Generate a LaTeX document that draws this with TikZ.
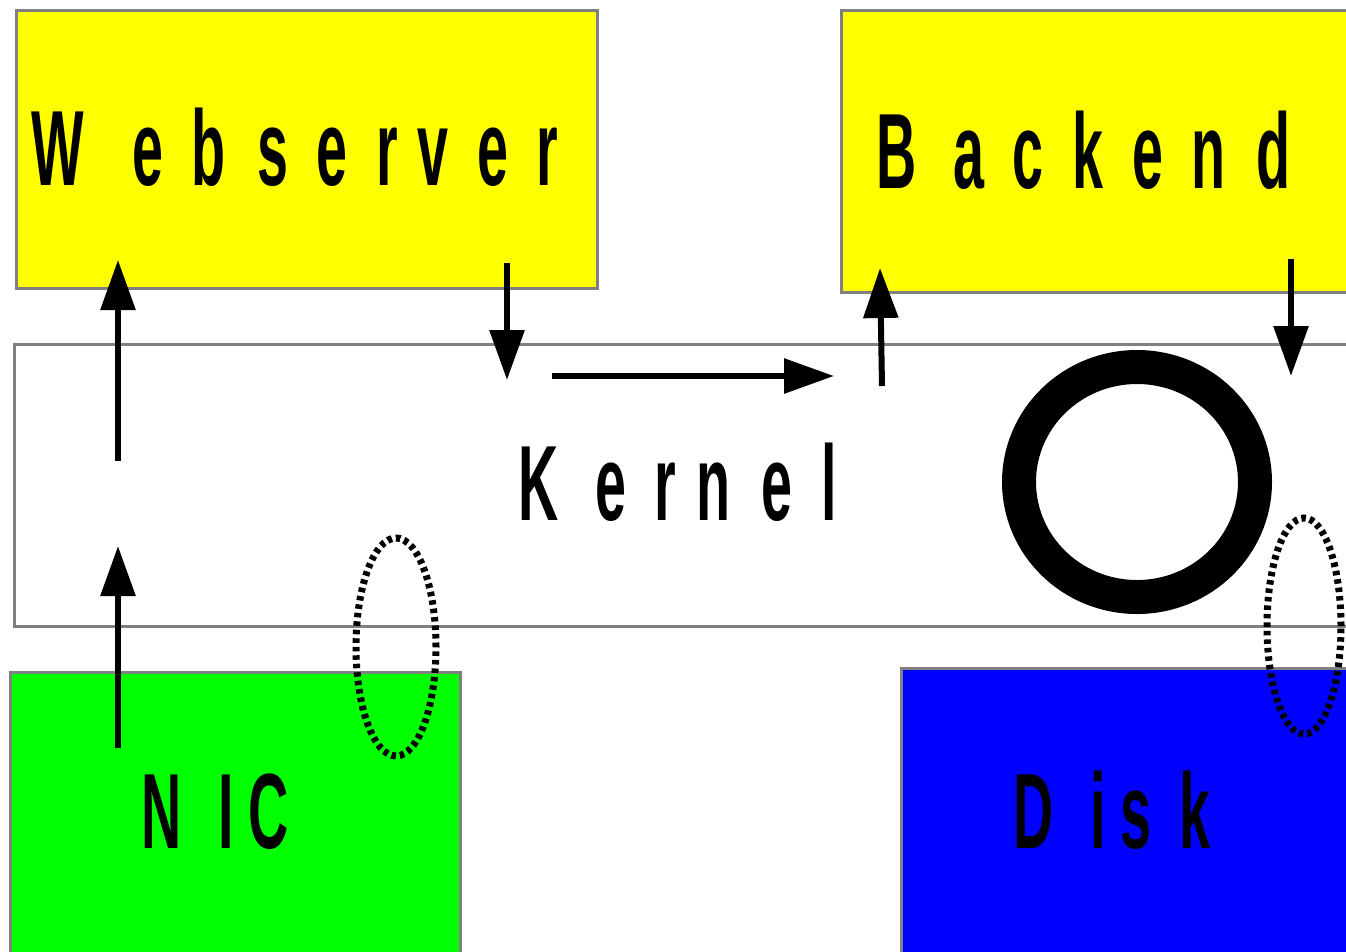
\documentclass[tikz,border=0pt]{standalone}
\usepackage{fontspec}
\setmainfont{Liberation Sans}
\usetikzlibrary{arrows.meta,shapes.geometric}
\definecolor{boxgray}{RGB}{128,128,128}
\definecolor{nicgreen}{RGB}{0,255,0}
\definecolor{diskblue}{RGB}{0,0,255}
\definecolor{srvyellow}{RGB}{255,255,0}
% each glyph squeezed horizontally, but kept at its full advance width
\newcommand\sqzchar[1]{\setbox0\hbox{#1}\hbox to \wd0{\scalebox{0.52}[1]{#1}\hss}}
\def\sqzloop#1{\ifx#1\relax\else\sqzchar{#1}\expandafter\sqzloop\fi}
\newcommand\sqz[1]{\sqzloop#1\relax}
\tikzset{
  box/.style={draw=boxgray, line width=3pt, anchor=north west, inner sep=0pt},
  lbl/.style={anchor=base west, inner sep=0pt, font=\bfseries\fontsize{107}{107}\selectfont},
  arr/.style={line width=6pt, -{Triangle[length=50pt,width=34pt]}},
  ringstyle/.style={draw, ellipse, line width=34pt, inner sep=0pt},
  loopstyle/.style={black, line width=7pt, dash pattern=on 4.5pt off 4pt}
}
\begin{document}
\begin{tikzpicture}[x=1pt,y=-1pt]
\useasboundingbox (0,0) rectangle (1346,951);
\clip (0,0) rectangle (1346,951);
% boxes
\node[box, fill=white, minimum width=1360pt, minimum height=282pt] (kernel) at (13,343) {};
\node[box, fill=srvyellow, minimum width=581pt, minimum height=278pt] (web) at (15,9) {};
\node[box, fill=srvyellow, minimum width=520pt, minimum height=282pt] (backend) at (840,9) {};
\node[box, fill=nicgreen, minimum width=450pt, minimum height=300pt] (nic) at (9,671) {};
\node[box, fill=diskblue, minimum width=460pt, minimum height=300pt] (disk) at (900,667) {};
% labels
\node[lbl] (webtxt) at (31,185) {\sqz{Webserver}};
\node[lbl] (backtxt) at (876,188) {\sqz{Backend}};
\node[lbl] (kerntxt) at (518,520) {\sqz{Kernel}};
\node[lbl] (nictxt) at (141,848) {\sqz{NIC}};
\node[lbl] (disktxt) at (1013,848) {\sqz{Disk}};
% ring
\node[ringstyle, minimum width=236pt, minimum height=230pt] (ring) at (1137,482) {};
% dashed loops
\coordinate (loopl) at (396,647);
\coordinate (loopr) at (1304,626);
\draw[loopstyle] (loopl) ellipse [x radius=40pt, y radius=109pt];
\draw[loopstyle] (loopr) ellipse [x radius=37pt, y radius=108pt];
% arrow end points
\coordinate (a1s) at (118,461);
\coordinate (a1e) at (118,260);
\coordinate (a2s) at (118,748);
\coordinate (a2e) at (118,546);
\coordinate (a3s) at (507,263);
\coordinate (a3e) at (507,380);
\coordinate (a4s) at (552,376);
\coordinate (a4e) at (834,376);
\coordinate (a5s) at (882,386);
\coordinate (a5e) at (880,268);
\coordinate (a6s) at (1291,259);
\coordinate (a6e) at (1291,376);
\draw[arr] (a1s) -- (a1e);
\draw[arr] (a2s) -- (a2e);
\draw[arr] (a3s) -- (a3e);
\draw[arr] (a4s) -- (a4e);
\draw[arr] (a5s) -- (a5e);
\draw[arr] (a6s) -- (a6e);
\end{tikzpicture}
\end{document}
